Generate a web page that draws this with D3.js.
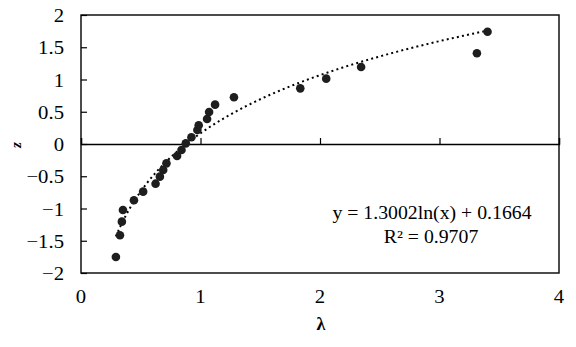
<!DOCTYPE html>
<html>
<head>
<meta charset="utf-8">
<script src="https://cdn.jsdelivr.net/npm/d3@7"></script>
<style>
  html, body { margin: 0; padding: 0; background: #fff; }
  svg { display: block; font-family: "Liberation Serif", "Times New Roman", serif; }
</style>
</head>
<body>
<svg id="chart" width="576" height="347"></svg>
<script>
// Observed points: dimensionless λ versus z
const lambda = [0.292, 0.326, 0.342, 0.351, 0.443, 0.520, 0.624, 0.660, 0.688, 0.715,
                0.804, 0.841, 0.877, 0.924, 0.974, 0.985, 1.055, 1.072, 1.122, 1.280,
                1.835, 2.052, 2.344, 3.313, 3.402];
const zVals  = [-1.752, -1.415, -1.204, -1.023, -0.873, -0.739, -0.615, -0.506, -0.403, -0.300,
                -0.186, -0.093, 0.010, 0.104, 0.217, 0.290, 0.388, 0.496, 0.610, 0.724,
                0.863, 1.013, 1.194, 1.406, 1.741];

// Logarithmic trend fit
const fitA = 1.3002, fitB = 0.1664, fitR2 = 0.9707;

const xTicks = [0, 1, 2, 3, 4];
const yTicks = [2, 1.5, 1, 0.5, 0, -0.5, -1, -1.5, -2];

const svg = d3.select("#chart");
const plot = { left: 81, top: 15, right: 559, bottom: 273 };

const x = d3.scaleLinear().domain([0, 4]).range([plot.left, plot.right]);
const y = d3.scaleLinear().domain([-2, 2]).range([plot.bottom, plot.top]);

// Text with a slightly widened face
function label(parent, px, py, str, size, anchor, sx) {
  return parent.append("text")
    .attr("transform", `translate(${px},${py}) scale(${sx},1)`)
    .attr("text-anchor", anchor)
    .attr("font-size", size)
    .text(str);
}

// Frame
svg.append("rect")
  .attr("x", plot.left).attr("y", plot.top)
  .attr("width", plot.right - plot.left).attr("height", plot.bottom - plot.top)
  .attr("fill", "none").attr("stroke", "#000").attr("stroke-width", 1.4);

// Left axis: inward ticks, labels outside
const yAxis = d3.axisRight(y).tickValues(yTicks).tickSize(6).tickFormat("");
svg.append("g").attr("transform", `translate(${plot.left},0)`).call(yAxis)
  .call(g => g.select(".domain").remove())
  .call(g => g.selectAll("line").attr("stroke", "#000").attr("stroke-width", 1.2));

const yLab = svg.append("g");
yTicks.forEach(d => label(yLab, 64, y(d) + 7, d3.format("")(d), 18.5, "end", 1.12));

// Zero line carries the horizontal axis ticks (pointing up)
const xAxis = d3.axisTop(x).tickValues(xTicks).tickSize(6).tickFormat("");
svg.append("g").attr("transform", `translate(0,${y(0)})`).call(xAxis)
  .call(g => g.select(".domain").attr("stroke", "#000").attr("stroke-width", 1.4))
  .call(g => g.selectAll("line").attr("stroke", "#000").attr("stroke-width", 1.2));

const xLab = svg.append("g");
xTicks.forEach(d => label(xLab, x(d), 303, String(d), 18.5, "middle", 1.12));

// Axis titles
svg.append("text")
  .attr("x", 321).attr("y", 330)
  .attr("text-anchor", "middle")
  .attr("font-size", 18).attr("font-weight", "bold")
  .text("λ");

svg.append("text")
  .attr("transform", "translate(21,145) rotate(-90)")
  .attr("text-anchor", "middle")
  .attr("font-size", 15).attr("font-weight", "bold").attr("font-style", "italic")
  .text("z");

// Trend curve
const xMin = d3.min(lambda), xMax = d3.max(lambda);
const curveX = d3.range(0, 201).map(i => xMin + (xMax - xMin) * i / 200);
const line = d3.line()
  .x(d => x(d))
  .y(d => y(fitA * Math.log(d) + fitB));
svg.append("path")
  .datum(curveX)
  .attr("d", line)
  .attr("fill", "none")
  .attr("stroke", "#000")
  .attr("stroke-width", 2)
  .attr("stroke-dasharray", "2 3.2");

// Data points
svg.append("g").selectAll("circle")
  .data(lambda.map((l, i) => [l, zVals[i]]))
  .join("circle")
  .attr("cx", d => x(d[0]))
  .attr("cy", d => y(d[1]))
  .attr("r", 4.3)
  .attr("fill", "#1e1e1e");

// Fit annotation
label(svg, 432, 219, `y = ${fitA.toFixed(4)}ln(x) + ${fitB.toFixed(4)}`, 18.5, "middle", 1.07);
label(svg, 431, 243, `R² = ${fitR2.toFixed(4)}`, 18.5, "middle", 1.07);
</script>
</body>
</html>
